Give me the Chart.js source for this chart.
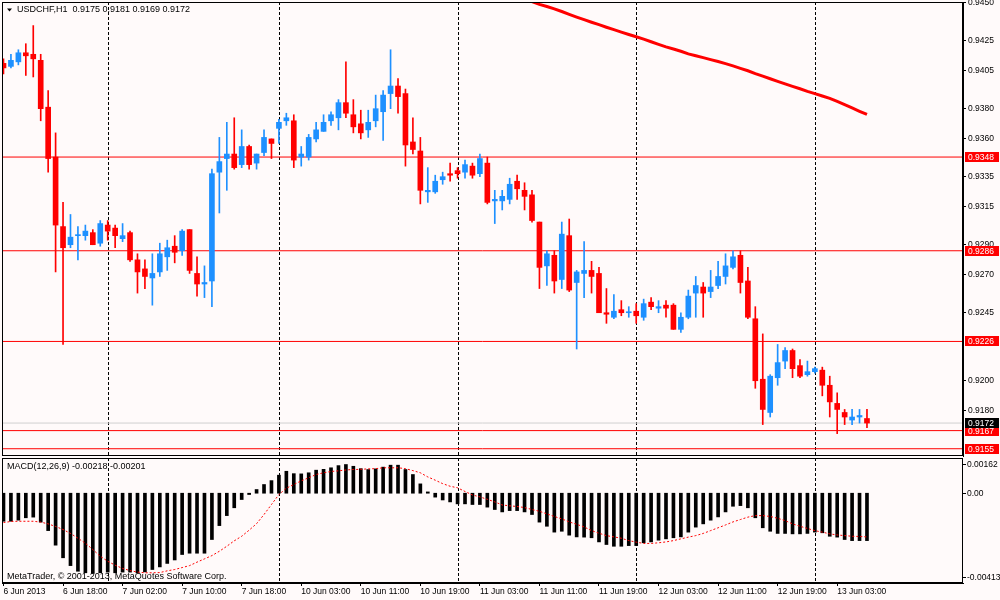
<!DOCTYPE html>
<html>
<head>
<meta charset="utf-8">
<title>USDCHF,H1</title>
<script src="https://cdn.jsdelivr.net/npm/chart.js@4.4.1/dist/chart.umd.min.js"></script>
<style>
  html, body { margin: 0; padding: 0; background: #fffafa; }
  #wrap { position: relative; width: 1000px; height: 600px; overflow: hidden; background: #fffafa; }
  #price { position: absolute; left: 0; top: 0; }
  #macd { position: absolute; left: 0; top: 456px; }
</style>
</head>
<body>
<div id="wrap">
  <canvas id="price" width="1000" height="458"></canvas>
  <canvas id="macd" width="1000" height="144"></canvas>
</div>
<script>
// USDCHF H1, 117 bars: 6 Jun 2013 10:00 .. 13 Jun 2013 07:00
const symbol = 'USDCHF,H1';

const opens = [
  0.9410, 0.9408, 0.9411, 0.9417, 0.9416, 0.9412, 0.9381, 0.9348, 0.9302, 0.9290,
  0.9296, 0.9296, 0.9298, 0.9291, 0.9303, 0.9301, 0.9294, 0.9298, 0.9280, 0.9274,
  0.9268, 0.9272, 0.9282, 0.9289, 0.9286, 0.9300, 0.9271, 0.9264, 0.9266, 0.9338,
  0.9347, 0.9350, 0.9343, 0.9355, 0.9344, 0.9351, 0.9360, 0.9367, 0.9372, 0.9372,
  0.9348, 0.9348, 0.9360, 0.9365, 0.9372, 0.9374, 0.9384, 0.9376, 0.9370, 0.9366,
  0.9372, 0.9378, 0.9390, 0.9395, 0.9390, 0.9358, 0.9352, 0.9325, 0.9325, 0.9333,
  0.9337, 0.9339, 0.9338, 0.9342, 0.9337, 0.9344, 0.9319, 0.9319, 0.9320, 0.9332,
  0.9326, 0.9323, 0.9305, 0.9276, 0.9283, 0.9267, 0.9296, 0.9265, 0.9271, 0.9273,
  0.9271, 0.9245, 0.9242, 0.9247, 0.9245, 0.9246, 0.9242, 0.9252, 0.9248, 0.9250,
  0.9250, 0.9234, 0.9242, 0.9258, 0.9262, 0.9259, 0.9263, 0.9269, 0.9275, 0.9283,
  0.9266, 0.9241, 0.9201, 0.9179, 0.9202, 0.9213, 0.9220, 0.9210, 0.9204, 0.9206,
  0.9207, 0.9197, 0.9185, 0.9179, 0.9174, 0.9176, 0.9175
];
const highs = [
  0.9413, 0.9416, 0.9419, 0.9423, 0.9435, 0.9416, 0.9392, 0.9364, 0.9318, 0.9310,
  0.9302, 0.9303, 0.9300, 0.9306, 0.9306, 0.9303, 0.9304, 0.9299, 0.9284, 0.9280,
  0.9284, 0.9291, 0.9293, 0.9296, 0.9300, 0.9300, 0.9282, 0.9276, 0.9340, 0.9361,
  0.9371, 0.9374, 0.9366, 0.9356, 0.9350, 0.9366, 0.9360, 0.9373, 0.9377, 0.9376,
  0.9355, 0.9363, 0.9371, 0.9376, 0.9378, 0.9386, 0.9411, 0.9386, 0.9379, 0.9379,
  0.9389, 0.9392, 0.9419, 0.9400, 0.9393, 0.9374, 0.9361, 0.9341, 0.9336, 0.9338,
  0.9344, 0.9341, 0.9346, 0.9344, 0.9350, 0.9348, 0.9326, 0.9326, 0.9334, 0.9336,
  0.9331, 0.9326, 0.9305, 0.9286, 0.9286, 0.9305, 0.9307, 0.9273, 0.9292, 0.9279,
  0.9275, 0.9261, 0.9257, 0.9253, 0.9249, 0.9251, 0.9254, 0.9255, 0.9253, 0.9253,
  0.9251, 0.9245, 0.9260, 0.9269, 0.9265, 0.9273, 0.9279, 0.9284, 0.9286, 0.9286,
  0.9275, 0.9249, 0.9231, 0.9204, 0.9224, 0.9222, 0.9221, 0.9214, 0.9213, 0.9209,
  0.9209, 0.9203, 0.9192, 0.9181, 0.9181, 0.9181, 0.9181
];
const lows = [
  0.9403, 0.9407, 0.9409, 0.9402, 0.9401, 0.9372, 0.9338, 0.9272, 0.9224, 0.9288,
  0.9280, 0.9293, 0.9290, 0.9289, 0.9293, 0.9288, 0.9292, 0.9279, 0.9258, 0.9261,
  0.9250, 0.9269, 0.9273, 0.9278, 0.9283, 0.9271, 0.9256, 0.9255, 0.9249, 0.9311,
  0.9326, 0.9340, 0.9341, 0.9340, 0.9340, 0.9349, 0.9347, 0.9357, 0.9369, 0.9341,
  0.9342, 0.9346, 0.9358, 0.9365, 0.9369, 0.9366, 0.9374, 0.9364, 0.9360, 0.9361,
  0.9368, 0.9359, 0.9380, 0.9377, 0.9342, 0.9350, 0.9317, 0.9318, 0.9324, 0.9330,
  0.9332, 0.9334, 0.9334, 0.9334, 0.9335, 0.9317, 0.9304, 0.9313, 0.9317, 0.9320,
  0.9313, 0.9305, 0.9261, 0.9263, 0.9258, 0.9261, 0.9259, 0.9221, 0.9255, 0.9258,
  0.9245, 0.9238, 0.9241, 0.9243, 0.9242, 0.9238, 0.9240, 0.9247, 0.9245, 0.9242,
  0.9234, 0.9232, 0.9241, 0.9242, 0.9242, 0.9255, 0.9261, 0.9264, 0.9274, 0.9258,
  0.9241, 0.9195, 0.9171, 0.9176, 0.9197, 0.9208, 0.9202, 0.9202, 0.9203, 0.9205,
  0.9190, 0.9176, 0.9165, 0.9171, 0.9171, 0.9172, 0.9169
];
const closes = [
  0.9407, 0.9412, 0.9417, 0.9415, 0.9413, 0.9380, 0.9347, 0.9303, 0.9288, 0.9295,
  0.9296, 0.9299, 0.9290, 0.9304, 0.9299, 0.9296, 0.9296, 0.9280, 0.9272, 0.9269,
  0.9271, 0.9284, 0.9288, 0.9285, 0.9299, 0.9273, 0.9264, 0.9265, 0.9337, 0.9345,
  0.9350, 0.9341, 0.9355, 0.9343, 0.9350, 0.9361, 0.9357, 0.9371, 0.9374, 0.9346,
  0.9350, 0.9361, 0.9366, 0.9371, 0.9376, 0.9384, 0.9377, 0.9368, 0.9364, 0.9371,
  0.9380, 0.9389, 0.9395, 0.9388, 0.9356, 0.9353, 0.9326, 0.9326, 0.9332, 0.9335,
  0.9336, 0.9337, 0.9343, 0.9336, 0.9347, 0.9318, 0.9320, 0.9322, 0.9330, 0.9327,
  0.9322, 0.9306, 0.9275, 0.9284, 0.9266, 0.9297, 0.9260, 0.9272, 0.9273, 0.9269,
  0.9245, 0.9244, 0.9246, 0.9245, 0.9245, 0.9243, 0.9251, 0.9249, 0.9249, 0.9248,
  0.9234, 0.9242, 0.9256, 0.9263, 0.9258, 0.9262, 0.9269, 0.9276, 0.9282, 0.9265,
  0.9242, 0.9200, 0.9181, 0.9203, 0.9212, 0.9220, 0.9208, 0.9203, 0.9206, 0.9208,
  0.9197, 0.9186, 0.9181, 0.9176, 0.9176, 0.9177, 0.9172
];

// moving average, visible from bar 70 on (earlier values are above the window)
const maFrom = 69;
const maValues = [
  0.9455, 0.9453, 0.94509, 0.9449, 0.94476, 0.94461, 0.94443, 0.94424, 0.94406, 0.94389,
  0.94372, 0.94356, 0.94339, 0.94323, 0.94307, 0.94291, 0.94276, 0.9426, 0.94243, 0.94226,
  0.94209, 0.94195, 0.9418, 0.94163, 0.9415, 0.94138, 0.94125, 0.94112, 0.94098, 0.94083,
  0.94067, 0.94051, 0.94032, 0.94015, 0.93998, 0.93981, 0.93964, 0.93948, 0.93932, 0.93915,
  0.939, 0.93884, 0.93868, 0.93848, 0.93827, 0.93805, 0.93783, 0.93762
];

const macdMain = [
  -0.00129, -0.00129, -0.00124, -0.00113, -0.0011, -0.00133, -0.00172, -0.00239, -0.00297, -0.00333,
  -0.00359, -0.00366, -0.00369, -0.00366, -0.00363, -0.00366, -0.00363, -0.00363, -0.00366, -0.00362,
  -0.00351, -0.00339, -0.00323, -0.00307, -0.00282, -0.00276, -0.00276, -0.00276, -0.00213, -0.00149,
  -0.00103, -0.00067, -0.00029, -0.00006, 0.00017, 0.0004, 0.00058, 0.00083, 0.00101, 0.0009,
  0.00089, 0.00094, 0.00106, 0.0011, 0.00117, 0.00127, 0.00132, 0.00124, 0.00113, 0.00109,
  0.00112, 0.0012, 0.00129, 0.00129, 0.00109, 0.00086, 0.00043, 0.00006, -0.00018, -0.00031,
  -0.0004, -0.00049, -0.00049, -0.00052, -0.00052, -0.00064, -0.00075, -0.00086, -0.0008, -0.0008,
  -0.00086, -0.00098, -0.00133, -0.00152, -0.00179, -0.00175, -0.00193, -0.00201, -0.00202, -0.00205,
  -0.00224, -0.00236, -0.00244, -0.00244, -0.00241, -0.00241, -0.00228, -0.00224, -0.00216, -0.0021,
  -0.00205, -0.00201, -0.00179, -0.00156, -0.00141, -0.00124, -0.00109, -0.00086, -0.0006, -0.00057,
  -0.00067, -0.00113, -0.00159, -0.00175, -0.00185, -0.00185, -0.00187, -0.00187, -0.00185, -0.00179,
  -0.00182, -0.00198, -0.00202, -0.00213, -0.00218, -0.00218, -0.00218
];
const macdSignal = [
  -0.00135, -0.0013, -0.00129, -0.00129, -0.00129, -0.00133, -0.00141, -0.00153, -0.00167, -0.00185,
  -0.00207, -0.0023, -0.00259, -0.0029, -0.00313, -0.00331, -0.00346, -0.00356, -0.00363, -0.00366,
  -0.00366, -0.00365, -0.00357, -0.00351, -0.00342, -0.00333, -0.00317, -0.00302, -0.00287, -0.00267,
  -0.00244, -0.00219, -0.00198, -0.0017, -0.0014, -0.00098, -0.00052, -0.00006, 0.00023, 0.0004,
  0.00057, 0.00071, 0.00086, 0.00094, 0.001, 0.00103, 0.00107, 0.00109, 0.0011, 0.00112,
  0.00113, 0.00117, 0.00117, 0.00117, 0.00113, 0.00104, 0.00094, 0.00075, 0.0006, 0.00044,
  0.00032, 0.00025, 0.00008, -0.00008, -0.00017, -0.00028, -0.0004, -0.00054, -0.00058, -0.00061,
  -0.00066, -0.00075, -0.00083, -0.00095, -0.00107, -0.00118, -0.00132, -0.00143, -0.00155, -0.00172,
  -0.00184, -0.00195, -0.00201, -0.00207, -0.00218, -0.00225, -0.00231, -0.00231, -0.00228, -0.00224,
  -0.00218, -0.0021, -0.00202, -0.00195, -0.00185, -0.00172, -0.00159, -0.00146, -0.00132, -0.00121,
  -0.0011, -0.00103, -0.00103, -0.00107, -0.00115, -0.00126, -0.00141, -0.00152, -0.00162, -0.00172,
  -0.00179, -0.00187, -0.00192, -0.00195, -0.00198, -0.00199, -0.00201
];

// horizontal levels and bid
const levels = [0.9348, 0.9286, 0.9226, 0.9167, 0.9155];
const bid = 0.9172;

// axis ticks
const priceTicks = [0.9450, 0.9425, 0.9405, 0.9380, 0.9360, 0.9335, 0.9315, 0.9290, 0.9270, 0.9245, 0.9200, 0.9180];
const macdTicks = [0.00162, 0, -0.00413];
const timeTickBars = [0, 8, 16, 24, 32, 40, 48, 56, 64, 72, 80, 88, 96, 104, 112];
const timeTickLabels = ['6 Jun 2013', '6 Jun 18:00', '7 Jun 02:00', '7 Jun 10:00', '7 Jun 18:00',
  '10 Jun 03:00', '10 Jun 11:00', '10 Jun 19:00', '11 Jun 03:00', '11 Jun 11:00',
  '11 Jun 19:00', '12 Jun 03:00', '12 Jun 11:00', '12 Jun 19:00', '13 Jun 03:00'];
const dayStarts = [14, 37, 61, 85, 109];

const FONT = '"Liberation Sans", Arial, sans-serif';
const BULL = '#1e90ff', BEAR = '#ff0000';
const candleColors = closes.map((c, i) => c >= opens[i] ? BULL : BEAR);
const last = closes.length - 1;

const xRange = { min: -0.2, max: 128.9 };
const priceRange = { min: 0.91502, max: 0.94506 };
const macdRange = { min: -0.00413, max: 0.00162 };

// a flat line across the whole window at price v
const hLine = (v, color) => ({
  type: 'line',
  label: 'level ' + v,
  data: [{ x: xRange.min, y: v }, { x: xRange.max, y: v }],
  borderColor: color,
  borderWidth: 1,
  pointRadius: 0
});

// frame + day separators
const frame = {
  id: 'frame',
  beforeDatasetsDraw(chart) {
    const { ctx, chartArea: a, scales: { x } } = chart;
    ctx.save();
    ctx.strokeStyle = '#000';
    ctx.lineWidth = 1;
    ctx.setLineDash([3, 2]);
    dayStarts.forEach(i => {
      const px = Math.round(x.getPixelForValue(i)) + 0.5;
      ctx.beginPath();
      ctx.moveTo(px, a.top);
      ctx.lineTo(px, a.bottom);
      ctx.stroke();
    });
    ctx.restore();
  },
  afterDraw(chart) {
    const { ctx, chartArea: a } = chart;
    ctx.save();
    ctx.strokeStyle = '#000';
    ctx.lineWidth = 1;
    ctx.strokeRect(a.left + 0.5, a.top + 0.5, a.right - a.left - 1, a.bottom - a.top - 1);
    ctx.restore();
  }
};

// price tags and header
const priceDeco = {
  id: 'priceDeco',
  afterDraw(chart) {
    const { ctx, chartArea: a, scales: { y } } = chart;
    ctx.save();
    ctx.font = '8.5px ' + FONT;
    ctx.textBaseline = 'middle';
    const tag = (v, bg) => {
      const py = Math.round(y.getPixelForValue(v));
      ctx.fillStyle = bg;
      ctx.fillRect(a.right + 2, py - 5, 34, 10);
      ctx.fillStyle = '#fff';
      ctx.fillText(v.toFixed(4), a.right + 5, py + 0.5);
    };
    levels.forEach(v => tag(v, '#ff0000'));
    tag(bid, '#000');

    ctx.fillStyle = '#000';
    ctx.beginPath();
    ctx.moveTo(7, 8.5);
    ctx.lineTo(12, 8.5);
    ctx.lineTo(9.5, 11.5);
    ctx.closePath();
    ctx.fill();
    ctx.font = '9px ' + FONT;
    ctx.fillText(symbol + '  ' + [opens[last], highs[last], lows[last], closes[last]].map(v => v.toFixed(4)).join(' '), 17, 10);
    ctx.restore();
  }
};

// MACD scale labels and texts
const macdDeco = {
  id: 'macdDeco',
  afterDraw(chart) {
    const { ctx, chartArea: a, scales: { y } } = chart;
    ctx.save();
    ctx.fillStyle = '#000';
    ctx.strokeStyle = '#000';
    ctx.lineWidth = 1;
    ctx.font = '8.5px ' + FONT;
    ctx.textBaseline = 'middle';
    macdTicks.forEach(v => {
      const py = Math.round(Math.min(Math.max(y.getPixelForValue(v), a.top + 6), a.bottom - 6)) + 0.5;
      ctx.beginPath();
      ctx.moveTo(a.right, py);
      ctx.lineTo(a.right + 3, py);
      ctx.stroke();
      ctx.fillText(v === 0 ? '0.00' : v.toFixed(5), a.right + 4, py);
    });
    ctx.font = '9px ' + FONT;
    ctx.fillText('MACD(12,26,9) ' + macdMain[last].toFixed(5) + ' ' + macdSignal[last].toFixed(5), a.left + 5, a.top + 9);
    ctx.fillText('MetaTrader, \u00a9 2001-2013, MetaQuotes Software Corp.', a.left + 5, a.bottom - 6);
    ctx.restore();
  }
};

const common = {
  responsive: false,
  animation: false,
  events: [],
  plugins: { legend: { display: false }, tooltip: { enabled: false } }
};

new Chart(document.getElementById('price'), {
  type: 'bar',
  data: {
    datasets: [
      {
        label: 'body',
        data: opens.map((o, i) => ({ x: i, y: [o, closes[i]] })),
        backgroundColor: candleColors,
        barThickness: 5, maxBarThickness: 5, minBarLength: 1, grouped: false
      },
      {
        label: 'wick',
        data: highs.map((h, i) => ({ x: i, y: [lows[i], h] })),
        backgroundColor: candleColors,
        barThickness: 1, maxBarThickness: 1, minBarLength: 1, grouped: false
      },
      {
        type: 'line',
        label: 'MA',
        data: maValues.map((v, k) => ({ x: maFrom + k, y: v })),
        borderColor: '#ff0000',
        borderWidth: 3,
        pointRadius: 0,
        tension: 0,
        clip: 0
      },
      ...levels.map(v => hLine(v, '#ff0000')),
      hLine(bid, '#d0d0d0')
    ]
  },
  options: {
    ...common,
    layout: { padding: { top: 2, left: 2, right: 0, bottom: 2 } },
    scales: {
      x: { type: 'linear', display: false, min: xRange.min, max: xRange.max, offset: false },
      y: {
        position: 'right',
        min: priceRange.min,
        max: priceRange.max,
        afterFit: s => { s.width = 37; s.paddingTop = 0; s.paddingBottom = 0; },
        afterBuildTicks: s => { s.ticks = priceTicks.map(v => ({ value: v })); },
        ticks: {
          color: '#000',
          font: { family: FONT, size: 8.5 },
          padding: 2,
          autoSkip: false,
          callback: v => v.toFixed(4)
        },
        grid: { drawOnChartArea: false, tickLength: 3, tickColor: '#000' },
        border: { display: true, color: '#000' }
      }
    }
  },
  plugins: [frame, priceDeco]
});

new Chart(document.getElementById('macd'), {
  type: 'bar',
  data: {
    datasets: [
      {
        type: 'line',
        label: 'Signal',
        data: macdSignal.map((v, i) => ({ x: i, y: v })),
        borderColor: '#ff0000',
        borderWidth: 1,
        borderDash: [2, 2],
        pointRadius: 0,
        tension: 0
      },
      {
        label: 'MACD',
        data: macdMain.map((v, i) => ({ x: i, y: v })),
        backgroundColor: '#000',
        barThickness: 3, maxBarThickness: 3, grouped: false
      }
    ]
  },
  options: {
    ...common,
    layout: { padding: { top: 2, left: 2, right: 0, bottom: 0 } },
    scales: {
      x: {
        type: 'linear',
        min: xRange.min,
        max: xRange.max,
        offset: false,
        afterFit: s => { s.height = 17; s.paddingLeft = 0; s.paddingRight = 0; },
        afterBuildTicks: s => { s.ticks = timeTickBars.map(v => ({ value: v })); },
        ticks: {
          align: 'start',
          autoSkip: false,
          maxRotation: 0,
          minRotation: 0,
          padding: 1,
          color: '#000',
          font: { family: FONT, size: 8.5 },
          callback: (v, i) => timeTickLabels[i]
        },
        grid: { drawOnChartArea: false, offset: false, tickLength: 3, tickColor: '#000' },
        border: { display: true, color: '#000' }
      },
      y: {
        position: 'right',
        min: macdRange.min,
        max: macdRange.max,
        afterFit: s => { s.width = 37; s.paddingTop = 0; s.paddingBottom = 0; },
        ticks: { display: false },
        grid: { display: false },
        border: { display: false }
      }
    }
  },
  plugins: [frame, macdDeco]
});
</script>
</body>
</html>
